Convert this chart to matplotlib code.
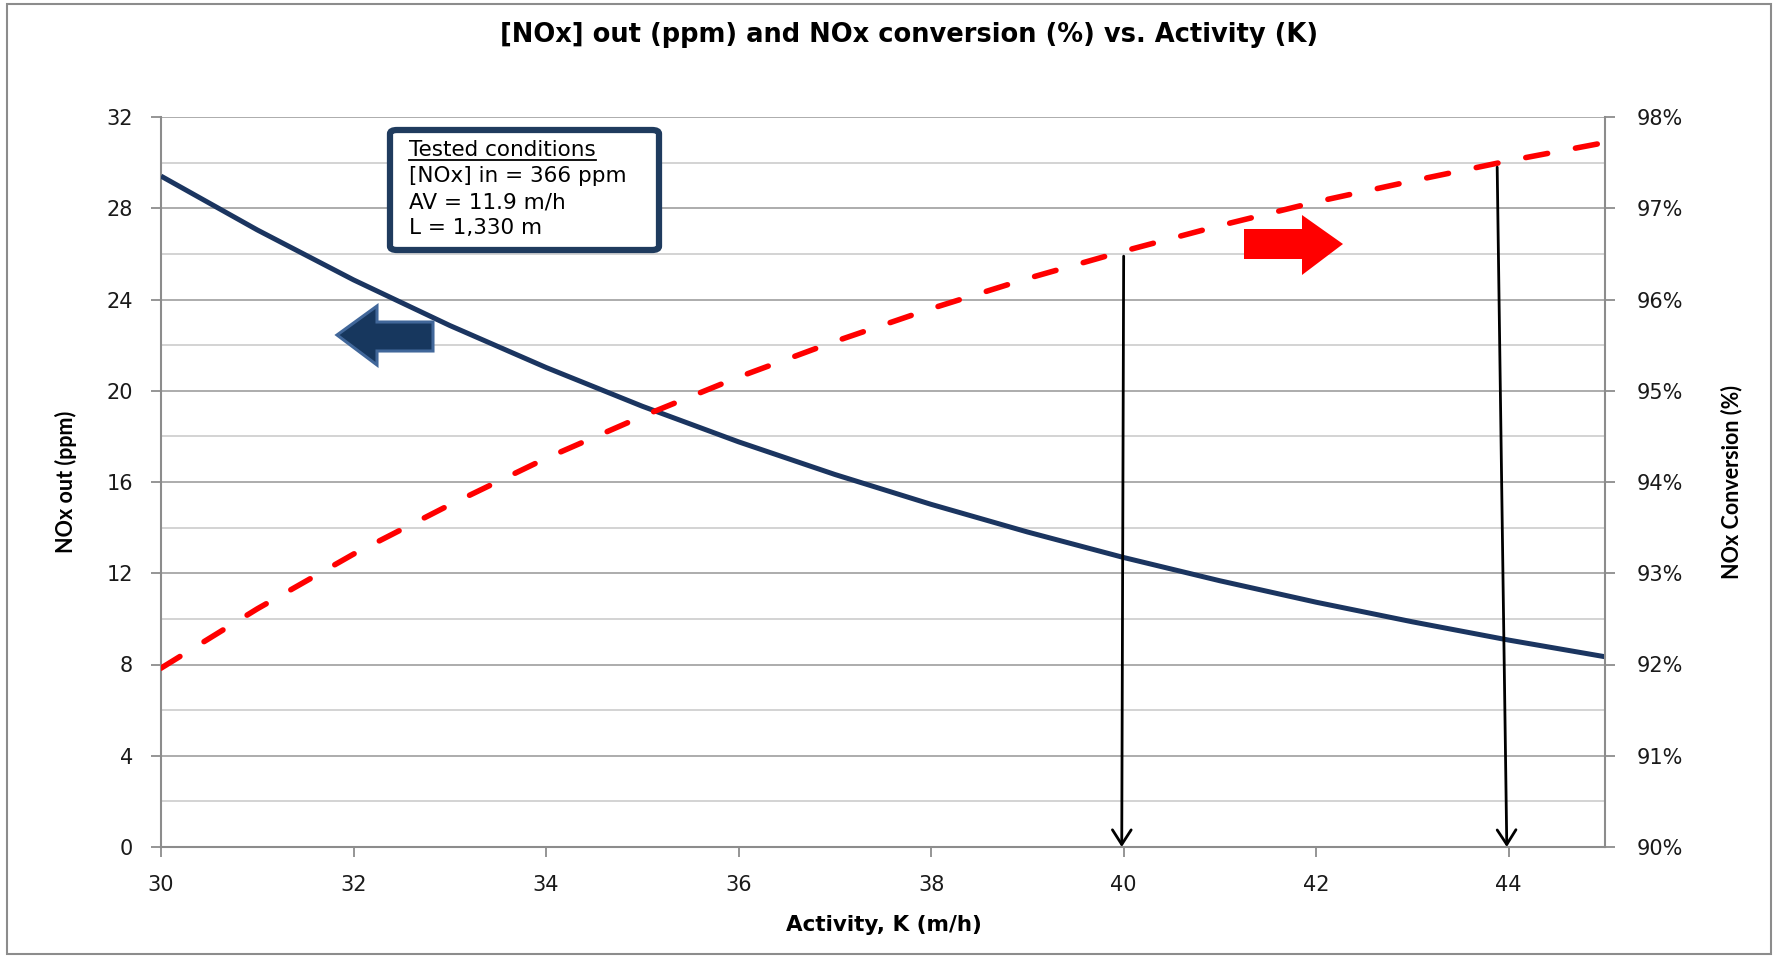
import matplotlib
matplotlib.use("Agg")
import matplotlib.pyplot as plt
from matplotlib.patches import Polygon, FancyBboxPatch, Rectangle
from matplotlib.lines import Line2D
from matplotlib.ticker import PercentFormatter, MultipleLocator

# ---------------- data ----------------
activity_k = [30, 31, 32, 33, 34, 35, 36, 37, 38, 39, 40, 41, 42, 43, 44, 45]
nox_out_ppm = [29.41, 27.05, 24.86, 22.86, 21.02, 19.32, 17.76, 16.33,
               15.02, 13.81, 12.69, 11.67, 10.73, 9.87, 9.07, 8.34]
nox_conversion = [0.9196, 0.9261, 0.9321, 0.9375, 0.9426, 0.9472, 0.9515, 0.9554,
                  0.9590, 0.9623, 0.9653, 0.9681, 0.9707, 0.9730, 0.9752, 0.9772]
x_ticks = [30, 32, 34, 36, 38, 40, 42, 44]
left_ticks = [0, 4, 8, 12, 16, 20, 24, 28, 32]
right_ticks = [0.90, 0.91, 0.92, 0.93, 0.94, 0.95, 0.96, 0.97, 0.98]
# pointer arrows: (x_start, y_start_ppm, x_end, y_end_ppm)
pointer_arrows = [(40.0, 25.9, 39.98, 0.0), (43.88, 29.8, 43.98, 0.0)]
title = "[NOx] out (ppm) and NOx conversion (%) vs. Activity (K)"
box_lines = ["Tested conditions", "[NOx] in = 366 ppm", "AV = 11.9 m/h", "L = 1,330 m"]

W, H = 1777, 957
fig = plt.figure(figsize=(W / 100, H / 100), dpi=100)

def fx(p):
    return p / W

def fy(p):
    return 1 - p / H

L_, R_, T_, B_ = 161, 1605, 117, 847
ax = fig.add_axes([fx(L_), fy(B_), fx(R_) - fx(L_), fy(T_) - fy(B_)])
ax2 = ax.twinx()

grid_major = "#A6A6A6"
grid_minor = "#D0D0D0"
spine_c = "#8C8C8C"

ax.set_xlim(30, 45)
ax.set_ylim(0, 32)
ax2.set_ylim(0.90, 0.98)

ax.set_xticks(x_ticks)
ax.set_yticks(left_ticks)
ax.yaxis.set_minor_locator(MultipleLocator(2))
ax2.set_yticks(right_ticks)
ax2.yaxis.set_major_formatter(PercentFormatter(1.0, decimals=0))

ax.grid(axis="y", which="major", color=grid_major, lw=1.3)
ax.grid(axis="y", which="minor", color=grid_minor, lw=1.3)
ax.set_axisbelow(True)

for a in (ax, ax2):
    for s in a.spines.values():
        s.set_color(spine_c)
        s.set_linewidth(1.5)
    a.spines["top"].set_visible(False)
ax.spines["right"].set_visible(False)
ax2.spines["left"].set_visible(False)
ax2.spines["bottom"].set_visible(False)

ax.tick_params(axis="both", which="major", direction="out", length=7, width=1.3,
               color=spine_c, labelsize=15, pad=13, labelcolor="#1a1a1a")
ax.tick_params(axis="y", which="minor", length=0)
ax2.tick_params(axis="y", which="major", direction="out", length=7, width=1.3,
                color=spine_c, labelsize=15, pad=16, labelcolor="#1a1a1a")

ax.plot(activity_k, nox_out_ppm, color="#1B3560", lw=3.6, zorder=3,
        solid_capstyle="butt")
ax2.plot(activity_k, nox_conversion, color="#FF0000", lw=4.0, ls=(0, (4.0, 5.1)),
         dash_capstyle="round", zorder=3)

for xs, ys, xe, ye in pointer_arrows:
    ax2.annotate("", xy=(xe, ye), xytext=(xs, ys), xycoords=ax.transData,
                 textcoords=ax.transData,
                 arrowprops=dict(arrowstyle="->,head_length=0.7,head_width=0.45",
                                 color="black", lw=2, mutation_scale=15,
                                 shrinkA=0, shrinkB=0), zorder=5)

label_font = dict(family="Lato", weight="bold", size=15.5, color="black")
fig.text(fx(884), fy(925), "Activity, K (m/h)", ha="center", va="center",
         family="DejaVu Sans", weight="bold", size=15.5, color="black")
fig.text(fx(66), fy(482), "NOx out (ppm)", rotation=90, ha="center", va="center", **label_font)
fig.text(fx(1732), fy(482), "NOx Conversion (%)", rotation=90, ha="center", va="center", **label_font)

fig.text(fx(909), fy(35), title, ha="center", va="center", family="DejaVu Sans",
         weight="bold", size=18.5, color="black")

# block arrows
blue = [(337, 335), (377, 306), (377, 322), (433, 322), (433, 351), (377, 351), (377, 365)]
fig.patches.append(Polygon([(fx(x), fy(y)) for x, y in blue], closed=True,
                           transform=fig.transFigure, facecolor="#17375E",
                           edgecolor="#41679A", lw=2.2, zorder=6))
red = [(1244, 229), (1302, 229), (1302, 215), (1343, 244), (1302, 275), (1302, 259), (1244, 259)]
fig.patches.append(Polygon([(fx(x), fy(y)) for x, y in red], closed=True,
                           transform=fig.transFigure, facecolor="#FF0000",
                           edgecolor="none", zorder=6))

# text box
bx0, by0, bx1, by1 = 390, 130, 659, 250
fig.patches.append(FancyBboxPatch((fx(bx0), fy(by1)), fx(bx1) - fx(bx0), fy(by0) - fy(by1),
                                  boxstyle="round,pad=0,rounding_size=0.004",
                                  transform=fig.transFigure, facecolor="white",
                                  edgecolor="#1F3B5E", lw=4.5, zorder=7))
ys = [150, 176, 202, 228]
texts = []
for line, yy in zip(box_lines, ys):
    texts.append(fig.text(fx(409), fy(yy), line, ha="left", va="center",
                          family="DejaVu Sans", size=15.5, color="black", zorder=8))
fig.canvas.draw()
bb = texts[0].get_window_extent()
fig.lines.append(Line2D([fx(409), bb.x1 / W], [fy(160), fy(160)], transform=fig.transFigure,
                        color="black", lw=1.3, zorder=8))

# outer border
fig.patches.append(Rectangle((fx(7), fy(954)), fx(1771) - fx(7), fy(4) - fy(954),
                             transform=fig.transFigure, fill=False, edgecolor="#8C8C8C",
                             lw=1.5, zorder=0))

fig.savefig("out.png", dpi=100)
